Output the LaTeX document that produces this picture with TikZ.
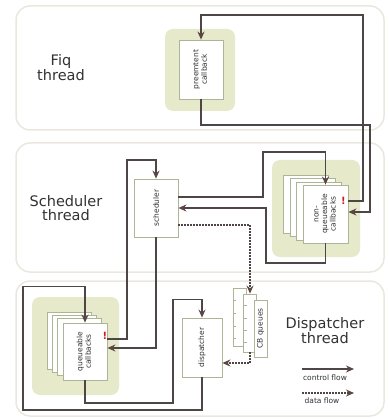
\documentclass[tikz,border=0pt]{standalone}
\usepackage{fontspec}
\setmainfont{DejaVu Sans}
\usetikzlibrary{arrows.meta,calc}
\definecolor{ln}{RGB}{78,70,70}
\definecolor{tipc}{RGB}{92,70,68}
\definecolor{pan}{RGB}{234,232,222}
\definecolor{grn}{RGB}{230,233,202}
\definecolor{bx}{RGB}{172,182,150}
\definecolor{bang}{RGB}{205,30,30}
\definecolor{txt}{RGB}{50,50,50}
\begin{document}
\begin{tikzpicture}[x=1pt,y=-1pt,
 panel/.style={draw=pan,line width=1.5pt,rounded corners=14pt,inner sep=0pt,outer sep=0pt},
 glow/.style={fill=grn,rounded corners=8pt,inner sep=0pt},
 box/.style={draw=bx,fill=white,line width=0.8pt,inner sep=0pt,font=\fontsize{7.5}{8.5}\selectfont,text=txt},
 flow/.style={draw=ln,line width=1.2pt,-{Stealth[length=8pt,width=7pt,color=tipc]}},
 dflow/.style={flow,dash pattern=on 1.6pt off 1.4pt},
 title/.style={font=\fontsize{14.5}{13.5}\selectfont,text=txt,align=center},
 legend/.style={font=\fontsize{7.5}{8}\selectfont,text=txt},
 bangst/.style={text=bang,font=\bfseries\fontsize{10}{10}\selectfont,inner sep=0pt}
]
\useasboundingbox[fill=white] (0,0) rectangle (388,419);
% panels
\node[panel,minimum width=368pt,minimum height=124pt] (fiqp) at (200,68) {};
\node[panel,minimum width=368pt,minimum height=129pt] (schp) at (200,207.5) {};
\node[panel,minimum width=368pt,minimum height=135pt] (disp0) at (200,348.5) {};
% titles
\node[title] (fiqt) at (61,68) {Fiq\\thread};
\node[title] (scht) at (66,208) {Scheduler\\thread};
\node[title] (dist) at (325,331) {Dispatcher\\thread};
% preemtent callback
\node[glow,minimum width=70pt,minimum height=82pt] (preg) at (200,70) {};
\node[box,minimum width=44pt,minimum height=59pt] (pre) at (201,69.5)
  {\rotatebox{90}{\begin{tabular}{@{}c@{}}preemtent\\callback\end{tabular}}};
% non-queueable callbacks
\node[glow,minimum width=88pt,minimum height=97pt] (nonqg) at (316,208.5) {};
\node[box,minimum width=45pt,minimum height=58pt] (nonq3) at (305.5,204) {};
\node[box,minimum width=45pt,minimum height=58pt] (nonq2) at (312.5,207.5) {};
\node[box,minimum width=45pt,minimum height=58pt] (nonq1) at (319,211) {};
\node[box,minimum width=45pt,minimum height=58pt] (nonq) at (325.5,214)
  {\rotatebox{90}{\begin{tabular}{@{}c@{}}non-\\queueable\\callbacks\end{tabular}}};
\node[bangst] (bang1) at (343.5,201) {!};
% scheduler
\node[box,minimum width=44pt,minimum height=58pt] (sched) at (156,208) {\rotatebox{90}{scheduler}};
% queueable callbacks
\node[glow,minimum width=87pt,minimum height=98pt] (qg) at (75.5,346) {};
\node[box,minimum width=44pt,minimum height=57pt] (q3) at (69,340.5) {};
\node[box,minimum width=44pt,minimum height=57pt] (q2) at (74,343.5) {};
\node[box,minimum width=44pt,minimum height=57pt] (q1) at (79,346.5) {};
\node[box,minimum width=44pt,minimum height=57pt] (qf) at (85,351.5)
  {\rotatebox{90}{\begin{tabular}{@{}c@{}}queueable\\callbacks\end{tabular}}};
\node[bangst] (bang2) at (105,336) {!};
% dispatcher
\node[box,minimum width=40pt,minimum height=59pt] (disp) at (202,347.5) {\rotatebox{90}{dispatcher}};
% CB queues
\node[box,minimum width=13pt,minimum height=58pt] (cbb) at (239.5,317) {};
\foreach \t in {300,313,326,338} \draw[draw=bx,line width=0.6pt] (233,\t) -- ++(3,0);
\node[box,minimum width=13pt,minimum height=58pt] (cbm) at (250,323) {};
\foreach \t in {305,318,330,342} \draw[draw=bx,line width=0.6pt] (243.5,\t) -- ++(3,0);
\node[box,minimum width=13pt,minimum height=57pt] (cbf) at (260.5,328.5) {\rotatebox{90}{CB queues}};
% connectors
\draw[flow] ($(nonq.east)+(0,-13)$) -| (363,15) -| (pre.north);
\draw[flow] (pre.south) |- (370,125) |- ($(nonq.east)+(0,-2)$);
\draw[flow] ($(sched.east)+(0,-11)$) -| (263,152) -| (nonq.north);
\draw[flow] (nonq.south) |- (266,263) |- (sched.east);
\draw[dflow] ($(sched.east)+(0,17)$) -| (cbm.north);
\draw[dflow] (cbm.south) |- ($(disp.east)+(0,15.5)$);
\draw[flow] ($(qf.east)+(0,-12.5)$) -| (127,160) -| (sched.north);
\draw[flow] (sched.south) |- ($(qf.east)+(0,-3.5)$);
\draw[flow] (qf.south) |- (173,403) |- ($(disp.north)+(0,-18)$) -- (disp.north);
\draw[flow] (disp.south) |- (23,410) |- ($(qf.north)+(0,-36)$) -- (qf.north);
% legend
\coordinate (lc1) at (302,369); \coordinate (lc2) at (354,369);
\draw[flow] (lc1) -- (lc2);
\node[legend] (lct) at (325,378) {control flow};
\coordinate (ld1) at (302,393); \coordinate (ld2) at (354,393);
\draw[dflow] (ld1) -- (ld2);
\node[legend] (ldt) at (322,401) {data flow};
\end{tikzpicture}
\end{document}
